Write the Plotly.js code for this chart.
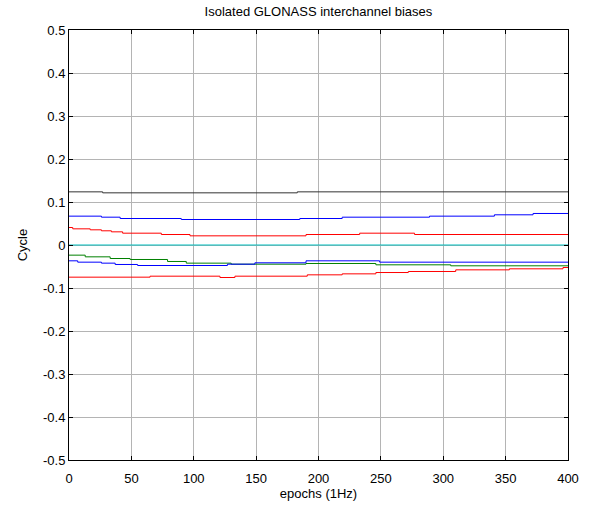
<!DOCTYPE html>
<html>
<head>
<meta charset="utf-8">
<script src="https://cdn.plot.ly/plotly-3.0.1.min.js"></script>
<style>html,body{margin:0;padding:0;background:#fff;}#chart{width:593px;height:506px;}</style>
</head>
<body>
<div id="chart"></div>
<script>
// Step series: breakpoint epochs and values (held until next breakpoint)
const blackX = [0, 27, 183, 400];
const blackY = [0.1236, 0.1213, 0.1236, 0.1236];

const blue1X = [0, 26, 41, 90, 185, 219, 289, 341, 372, 400];
const blue1Y = [0.0671, 0.0647, 0.0616, 0.0593, 0.0616, 0.0647, 0.0671, 0.0702, 0.0733, 0.0733];

const red1X = [0, 3, 17, 26, 34, 43, 74, 97, 190, 233, 277, 400];
const red1Y = [0.0407, 0.0376, 0.0353, 0.0330, 0.0306, 0.0275, 0.0244, 0.0213, 0.0244, 0.0275, 0.0244, 0.0244];

const cyanX = [0, 400];
const cyanY = [0, 0];

const greenX = [0, 13, 33, 49, 79, 94, 130, 190, 246, 306, 400];
const greenY = [-0.0236, -0.0275, -0.0314, -0.0337, -0.0383, -0.0422, -0.0446, -0.0430, -0.0461, -0.0484, -0.0484];

const blue2X = [0, 7, 26, 37, 55, 127, 149, 190, 249, 400];
const blue2Y = [-0.0368, -0.0399, -0.0422, -0.0453, -0.0477, -0.0446, -0.0414, -0.0368, -0.0399, -0.0399];

const red2X = [0, 65, 121, 133, 191, 219, 246, 272, 310, 353, 396, 400];
const red2Y = [-0.0748, -0.0725, -0.0756, -0.0725, -0.0694, -0.0671, -0.0640, -0.0616, -0.0578, -0.0554, -0.0523, -0.0523];

const xTicks = [0, 50, 100, 150, 200, 250, 300, 350, 400];
const yTicks = [0.5, 0.4, 0.3, 0.2, 0.1, 0, -0.1, -0.2, -0.3, -0.4, -0.5];
const yTickText = ['0.5', '0.4', '0.3', '0.2', '0.1', '0', '-0.1', '-0.2', '-0.3', '-0.4', '-0.5'];

function tr(x, y, color) {
  return {x: x, y: y, type: 'scatter', mode: 'lines',
    line: {color: color, width: 1, shape: 'hv'}, hoverinfo: 'skip', showlegend: false};
}

const data = [
  tr(blackX, blackY, '#333333'),
  tr(blue1X, blue1Y, '#0000ff'),
  tr(red1X, red1Y, '#ff0000'),
  tr(cyanX, cyanY, '#00bfbf'),
  tr(greenX, greenY, '#008000'),
  tr(blue2X, blue2Y, '#0000ff'),
  tr(red2X, red2Y, '#ff0000')
];

const font = {family: 'Liberation Sans, Arial, sans-serif', size: 13, color: '#000'};

const layout = {
  width: 593, height: 506,
  margin: {l: 69, r: 25, t: 30, b: 46, pad: 0},
  paper_bgcolor: '#fff', plot_bgcolor: '#fff',
  font: font,
  title: {text: 'Isolated GLONASS interchannel biases', font: {family: font.family, size: 13, color: '#000'},
          x: 0.537, xanchor: 'center', y: 0.978, yanchor: 'middle'},
  xaxis: {
    range: [0, 400], tickvals: xTicks, ticktext: xTicks.map(String),
    showgrid: true, gridcolor: '#b4b4b4', gridwidth: 1,
    showline: true, linecolor: '#000', linewidth: 1, mirror: 'ticks',
    ticks: 'inside', ticklen: 4, tickcolor: '#000', ticklabelstandoff: 6,
    zeroline: false, tickfont: font,
    title: {text: 'epochs (1Hz)', font: font, standoff: 3}
  },
  yaxis: {
    range: [-0.5, 0.5], tickvals: yTicks, ticktext: yTickText,
    showgrid: true, gridcolor: '#b4b4b4', gridwidth: 1,
    showline: true, linecolor: '#000', linewidth: 1, mirror: 'ticks',
    ticks: 'inside', ticklen: 4, tickcolor: '#000',
    zeroline: false, tickfont: font,
    title: {text: 'Cycle', font: font, standoff: 12}
  }
};

Plotly.newPlot('chart', data, layout, {staticPlot: true, displayModeBar: false});
</script>
</body>
</html>
